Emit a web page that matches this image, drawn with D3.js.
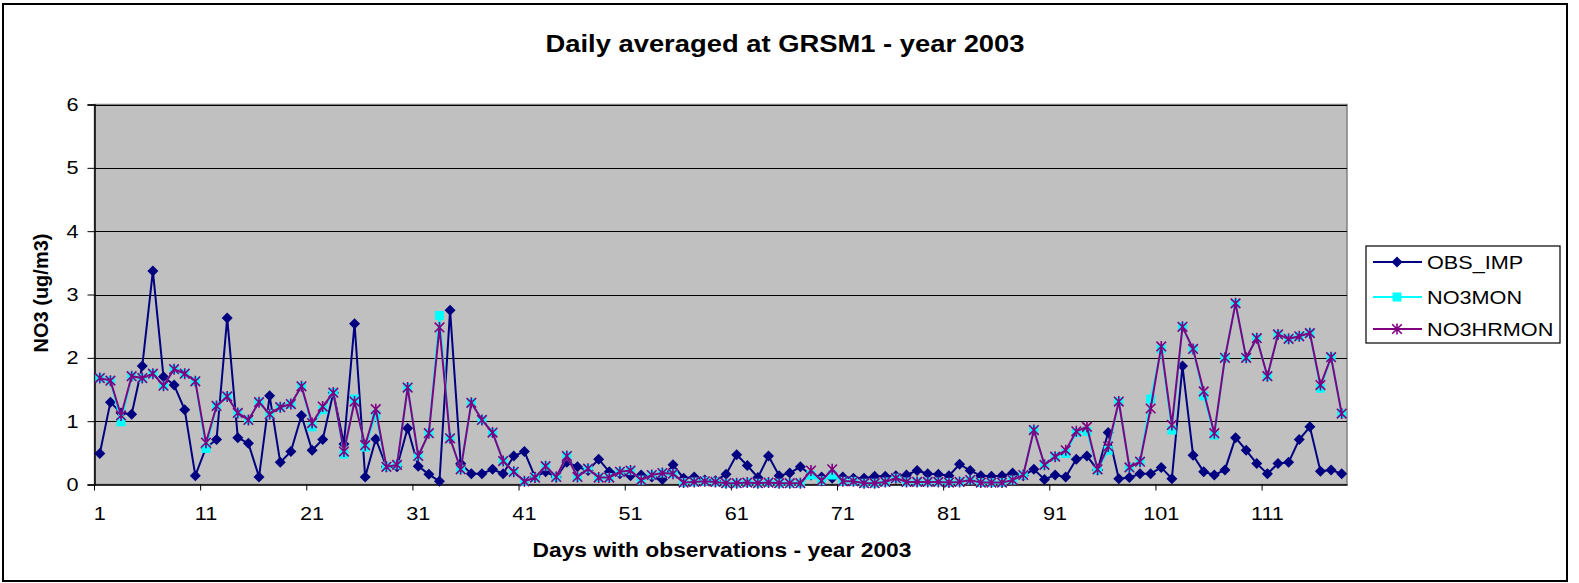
<!DOCTYPE html>
<html>
<head>
<meta charset="utf-8">
<script src="https://cdnjs.cloudflare.com/ajax/libs/d3/7.8.5/d3.min.js"></script>
<style>
  body { margin: 0; background: #fff; }
  svg { display: block; font-family: Arial, "Liberation Sans", sans-serif; }
</style>
</head>
<body>
<div id="chart"></div>
<script>
// days 1..118
var days = d3.range(1, 119);

var obsImp = [
  0.49, 1.30, 1.13, 1.11, 1.87, 3.37, 1.70, 1.57, 1.18, 0.14,
  0.58, 0.71, 2.63, 0.74, 0.65, 0.12, 1.40, 0.35, 0.52, 1.09,
  0.54, 0.71, 1.45, 0.64, 2.54, 0.12, 0.72, 0.28, 0.28, 0.89,
  0.29, 0.16, 0.05, 2.75, 0.33, 0.17, 0.17, 0.24, 0.17, 0.45,
  0.52, 0.12, 0.20, 0.12, 0.35, 0.28, 0.22, 0.40, 0.20, 0.17,
  0.14, 0.15, 0.12, 0.08, 0.31, 0.10, 0.12, 0.07, 0.06, 0.16,
  0.47, 0.30, 0.11, 0.45, 0.14, 0.18, 0.28, 0.15, 0.12, 0.10,
  0.12, 0.10, 0.10, 0.13, 0.13, 0.14, 0.15, 0.22, 0.17, 0.16,
  0.14, 0.32, 0.22, 0.14, 0.13, 0.14, 0.18, 0.14, 0.24, 0.08,
  0.15, 0.12, 0.40, 0.45, 0.23, 0.82, 0.09, 0.11, 0.17, 0.17,
  0.27, 0.09, 1.87, 0.46, 0.20, 0.15, 0.23, 0.74, 0.54, 0.33,
  0.17, 0.33, 0.35, 0.71, 0.91, 0.21, 0.23, 0.17
];

var no3Mon = [
  1.68, 1.64, 0.99, 1.71, 1.68, 1.75, 1.56, 1.82, 1.75, 1.63,
  0.57, 1.24, 1.39, 1.13, 1.02, 1.30, 1.11, 1.22, 1.27, 1.55,
  0.91, 1.18, 1.45, 0.48, 1.35, 0.59, 1.10, 0.28, 0.31, 1.53,
  0.45, 0.81, 2.67, 0.73, 0.24, 1.29, 1.02, 0.82, 0.37, 0.20,
  0.05, 0.11, 0.29, 0.12, 0.45, 0.12, 0.25, 0.11, 0.11, 0.20,
  0.22, 0.07, 0.15, 0.18, 0.17, 0.03, 0.04, 0.05, 0.04, 0.02,
  0.02, 0.03, 0.02, 0.03, 0.02, 0.02, 0.02, 0.15, 0.06, 0.15,
  0.05, 0.05, 0.02, 0.02, 0.04, 0.10, 0.04, 0.04, 0.04, 0.04,
  0.03, 0.04, 0.07, 0.03, 0.03, 0.03, 0.07, 0.15, 0.86, 0.31,
  0.44, 0.49, 0.82, 0.84, 0.23, 0.54, 1.31, 0.27, 0.36, 1.35,
  2.14, 0.86, 2.49, 2.14, 1.40, 0.78, 2.00, 2.86, 2.00, 2.31,
  1.71, 2.37, 2.30, 2.34, 2.39, 1.52, 2.01, 1.12
];

var no3HrMon = [
  1.68, 1.64, 1.09, 1.71, 1.68, 1.75, 1.56, 1.82, 1.75, 1.63,
  0.66, 1.24, 1.39, 1.13, 1.02, 1.30, 1.11, 1.22, 1.27, 1.55,
  0.97, 1.23, 1.45, 0.52, 1.31, 0.62, 1.19, 0.28, 0.31, 1.53,
  0.45, 0.81, 2.48, 0.73, 0.24, 1.29, 1.02, 0.82, 0.37, 0.20,
  0.05, 0.11, 0.29, 0.12, 0.45, 0.12, 0.25, 0.11, 0.11, 0.20,
  0.22, 0.07, 0.15, 0.18, 0.17, 0.03, 0.04, 0.05, 0.04, 0.02,
  0.02, 0.03, 0.02, 0.03, 0.02, 0.02, 0.02, 0.22, 0.06, 0.24,
  0.05, 0.05, 0.02, 0.02, 0.04, 0.10, 0.04, 0.04, 0.04, 0.04,
  0.03, 0.04, 0.07, 0.03, 0.03, 0.03, 0.07, 0.15, 0.86, 0.31,
  0.44, 0.54, 0.84, 0.91, 0.24, 0.60, 1.31, 0.27, 0.36, 1.20,
  2.18, 0.94, 2.49, 2.14, 1.47, 0.81, 2.00, 2.86, 2.00, 2.31,
  1.71, 2.37, 2.30, 2.34, 2.39, 1.57, 2.01, 1.12
];

var seriesNames = ["OBS_IMP", "NO3MON", "NO3HRMON"];
var yTicks = [0, 1, 2, 3, 4, 5, 6];
var xTickDays = [1, 11, 21, 31, 41, 51, 61, 71, 81, 91, 101, 111];

var width = 1579, height = 583;
var plot = {left: 94.5, top: 104.5, right: 1347, bottom: 484.5};
var stretch = 1.14;   // the original text is a bit wider than Arial

var svg = d3.select("#chart").append("svg")
    .attr("width", width)
    .attr("height", height);

// chart frame
svg.append("rect")
    .attr("x", 3).attr("y", 4)
    .attr("width", 1564).attr("height", 577)
    .attr("fill", "#fff")
    .attr("stroke", "#000")
    .attr("stroke-width", 2);

var x = d3.scaleBand()
    .domain(days)
    .range([plot.left, plot.right])
    .padding(0);
var bw = x.bandwidth();
function cx(d) { return x(d) + bw / 2; }

var y = d3.scaleLinear()
    .domain([0, 6])
    .range([plot.bottom, plot.top]);

// plot area
svg.append("rect")
    .attr("x", plot.left).attr("y", plot.top)
    .attr("width", plot.right - plot.left)
    .attr("height", plot.bottom - plot.top)
    .attr("fill", "#c0c0c0")
    .attr("stroke", "#808080")
    .attr("stroke-width", 1.5);

// gridlines
svg.append("g")
    .selectAll("line")
    .data(yTicks.filter(function (t) { return t > 0; }))
    .enter()
    .append("line")
    .attr("x1", plot.left).attr("x2", plot.right)
    .attr("y1", function (d) { return Math.round(y(d)) + 0.5; })
    .attr("y2", function (d) { return Math.round(y(d)) + 0.5; })
    .attr("stroke", "#000")
    .attr("stroke-width", 1);

// y axis
var yAxis = svg.append("g")
    .attr("transform", "translate(" + plot.left + ",0)")
    .call(d3.axisLeft(y).tickValues(yTicks).tickSize(7).tickPadding(9).tickFormat(d3.format("d")));
yAxis.select(".domain").attr("stroke", "#000").attr("stroke-width", 1.5);
yAxis.selectAll(".tick line").attr("stroke", "#000");
yAxis.selectAll(".tick text")
    .attr("fill", "#000")
    .style("font-size", "19px")
    .style("font-family", "Arial, 'Liberation Sans', sans-serif");

// x axis: ticks on category boundaries, labels on category centres
var xAxis = svg.append("g")
    .attr("transform", "translate(0," + plot.bottom + ")")
    .call(d3.axisBottom(x).tickValues(xTickDays).tickSize(6).tickPadding(16).tickSizeOuter(0));
xAxis.select(".domain").attr("stroke", "#000").attr("stroke-width", 1.5);
xAxis.selectAll(".tick line")
    .attr("stroke", "#000")
    .attr("x1", -bw / 2).attr("x2", -bw / 2);
xAxis.selectAll(".tick text")
    .attr("fill", "#000")
    .style("font-size", "19px")
    .style("font-family", "Arial, 'Liberation Sans', sans-serif");

// series
var diamond = "M0,-5.5L5.5,0L0,5.5L-5.5,0Z";
var star = "M0,-5.5V5.5M-4.8,-4.8L4.8,4.8M-4.8,4.8L4.8,-4.8";

function lineOf(vals) {
    return d3.line()
        .x(function (d, i) { return cx(days[i]); })
        .y(function (d) { return y(d); })(vals);
}

// OBS_IMP
svg.append("path")
    .attr("d", lineOf(obsImp))
    .attr("fill", "none")
    .attr("stroke", "#000080")
    .attr("stroke-width", 2);
svg.append("g")
    .selectAll("path")
    .data(obsImp)
    .enter()
    .append("path")
    .attr("d", diamond)
    .attr("transform", function (d, i) { return "translate(" + cx(days[i]) + "," + y(d) + ")"; })
    .attr("fill", "#000080");

// NO3MON
svg.append("path")
    .attr("d", lineOf(no3Mon))
    .attr("fill", "none")
    .attr("stroke", "#00ffff")
    .attr("stroke-width", 2);
svg.append("g")
    .selectAll("rect")
    .data(no3Mon)
    .enter()
    .append("rect")
    .attr("x", function (d, i) { return cx(days[i]) - 4.5; })
    .attr("y", function (d) { return y(d) - 4.5; })
    .attr("width", 9).attr("height", 9)
    .attr("fill", "#00ffff");

// NO3HRMON
svg.append("path")
    .attr("d", lineOf(no3HrMon))
    .attr("fill", "none")
    .attr("stroke", "#800080")
    .attr("stroke-width", 2);
svg.append("g")
    .selectAll("path")
    .data(no3HrMon)
    .enter()
    .append("path")
    .attr("d", star)
    .attr("transform", function (d, i) { return "translate(" + cx(days[i]) + "," + y(d) + ")"; })
    .attr("fill", "none")
    .attr("stroke", "#800080")
    .attr("stroke-width", 1.6);

// titles
svg.append("text")
    .attr("class", "wide")
    .attr("x", 785).attr("y", 52)
    .attr("text-anchor", "middle")
    .style("font-size", "24px")
    .style("font-weight", "bold")
    .text("Daily averaged at GRSM1 - year 2003");

svg.append("text")
    .attr("class", "wide")
    .attr("x", 722).attr("y", 557)
    .attr("text-anchor", "middle")
    .style("font-size", "20px")
    .style("font-weight", "bold")
    .text("Days with observations - year 2003");

svg.append("text")
    .attr("transform", "translate(48,293) rotate(-90)")
    .attr("text-anchor", "middle")
    .style("font-size", "20px")
    .style("font-weight", "bold")
    .text("NO3 (ug/m3)");

// legend
var legend = svg.append("g");
legend.append("rect")
    .attr("x", 1366).attr("y", 246)
    .attr("width", 194).attr("height", 97)
    .attr("fill", "#fff")
    .attr("stroke", "#000")
    .attr("stroke-width", 1.2);

var legColors = ["#000080", "#00ffff", "#800080"];
var legRows = [262, 297, 329];
seriesNames.forEach(function (name, i) {
    var ly = legRows[i];
    legend.append("line")
        .attr("x1", 1373).attr("x2", 1422)
        .attr("y1", ly).attr("y2", ly)
        .attr("stroke", legColors[i])
        .attr("stroke-width", 2);
    if (i === 0) {
        legend.append("path").attr("d", diamond)
            .attr("transform", "translate(1397," + ly + ")")
            .attr("fill", legColors[i]);
    } else if (i === 1) {
        legend.append("rect")
            .attr("x", 1392.5).attr("y", ly - 4.5)
            .attr("width", 9).attr("height", 9)
            .attr("fill", legColors[i]);
    } else {
        legend.append("path").attr("d", star)
            .attr("transform", "translate(1397," + ly + ")")
            .attr("fill", "none")
            .attr("stroke", legColors[i])
            .attr("stroke-width", 1.6);
    }
    legend.append("text")
        .attr("class", "wide")
        .attr("x", 1427).attr("y", ly + 7)
        .style("font-size", "19px")
        .text(name);
});

// widen the horizontal texts a little
xAxis.selectAll(".tick text").classed("wide", true);
yAxis.selectAll(".tick text").classed("wide", true);
svg.selectAll("text.wide").each(function () {
    var len = this.getComputedTextLength();
    d3.select(this)
        .attr("textLength", len * stretch)
        .attr("lengthAdjust", "spacingAndGlyphs");
});
</script>
</body>
</html>
